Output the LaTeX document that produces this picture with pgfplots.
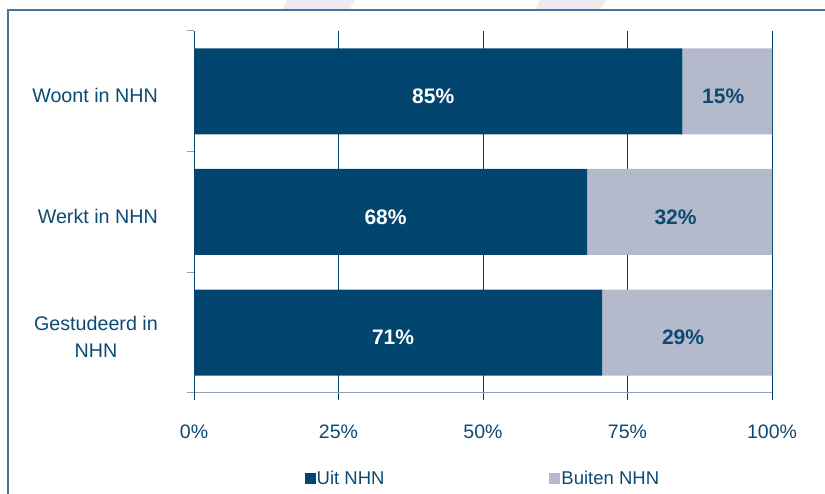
\documentclass[border=0pt]{standalone}
\usepackage{pgfplots}
\pgfplotsset{compat=1.18}
\usepackage{fontspec}
\setmainfont{Liberation Sans}
\definecolor{uit}{HTML}{02466F}
\definecolor{buiten}{HTML}{B4B9CC}
\definecolor{txt}{HTML}{0C4A72}
\definecolor{framec}{HTML}{4A7494}
\definecolor{axlight}{HTML}{8FA3B5}
\definecolor{wm}{HTML}{EBEBF0}
\begin{document}
\begin{tikzpicture}
\useasboundingbox (0,0) rectangle (825pt,494pt);
% watermark shapes above the frame
\fill[wm] (287pt,494pt) -- (355pt,494pt) -- (349pt,484pt) -- (282pt,484pt) -- cycle;
\fill[wm] (540pt,494pt) -- (606pt,494pt) -- (600pt,484pt) -- (535pt,484pt) -- cycle;
\draw[framec, line width=1.5pt] (8pt,0pt) -- (8pt,484pt);
\draw[framec, line width=2.5pt] (7.25pt,484pt) -- (825pt,484pt);
\begin{axis}[
  at={(194pt,101pt)}, anchor=south west,
  scale only axis, width=578pt, height=362pt,
  xbar stacked, bar width=86pt,
  xmin=0, xmax=100, ymin=-0.5, ymax=2.5,
  axis x line*=bottom, axis y line*=left,
  x axis line style={axlight, line width=1pt, -},
  y axis line style={uit, line width=1pt, -},
  xtick={0,25,50,75,100},
  xticklabels={0\%,25\%,50\%,75\%,100\%},
  x tick style={uit, line width=0.8pt},
  xmajorgrids, grid style={uit, line width=0.8pt},
  tick align=outside, major tick length=7pt,
  xticklabel style={font=\fontsize{19.5}{23}\selectfont, text=txt, inner sep=0pt, yshift=-25pt},
  ytick={-0.5,0.5,1.5,2.5}, yticklabels={},
  y tick style={axlight, line width=1pt},
  extra y ticks={0,1,2},
  extra y tick labels={Gestudeerd in\\NHN, Werkt in NHN, Woont in NHN},
  extra y tick style={major tick length=0pt},
  yticklabel style={font=\fontsize{19.7}{27}\selectfont, text=txt, align=center, anchor=east, inner sep=0pt, xshift=-36pt, yshift=-4pt},
  legend style={at={(0.499,-0.235)}, anchor=center, draw=none, fill=none,
    legend columns=2, font=\fontsize{18.5}{22}\selectfont, text=txt,
    nodes={inner sep=1pt},
    /tikz/every even column/.append style={column sep=164pt}},
  legend image code/.code={\fill[#1, draw=none] (0pt,-5.5pt) rectangle (11pt,5.5pt);},
  point meta=explicit symbolic,
  nodes near coords={\pgfplotspointmeta\%},
]
\addplot[fill=uit, draw=none,
  every node near coord/.append style={white, font=\bfseries\fontsize{21}{25}\selectfont,
    anchor=center, xshift=-5pt, yshift=-5pt}]
  coordinates {(70.6,0) [71] (68,1) [68] (84.5,2) [85]};
\addplot[fill=buiten, draw=none,
  every node near coord/.append style={text=txt, font=\bfseries\fontsize{21}{25}\selectfont,
    anchor=center, xshift=-4pt, yshift=-5pt}]
  coordinates {(29.4,0) [29] (32,1) [32] (15.5,2) [15]};
\legend{Uit NHN, Buiten NHN}
\end{axis}
\end{tikzpicture}
\end{document}
